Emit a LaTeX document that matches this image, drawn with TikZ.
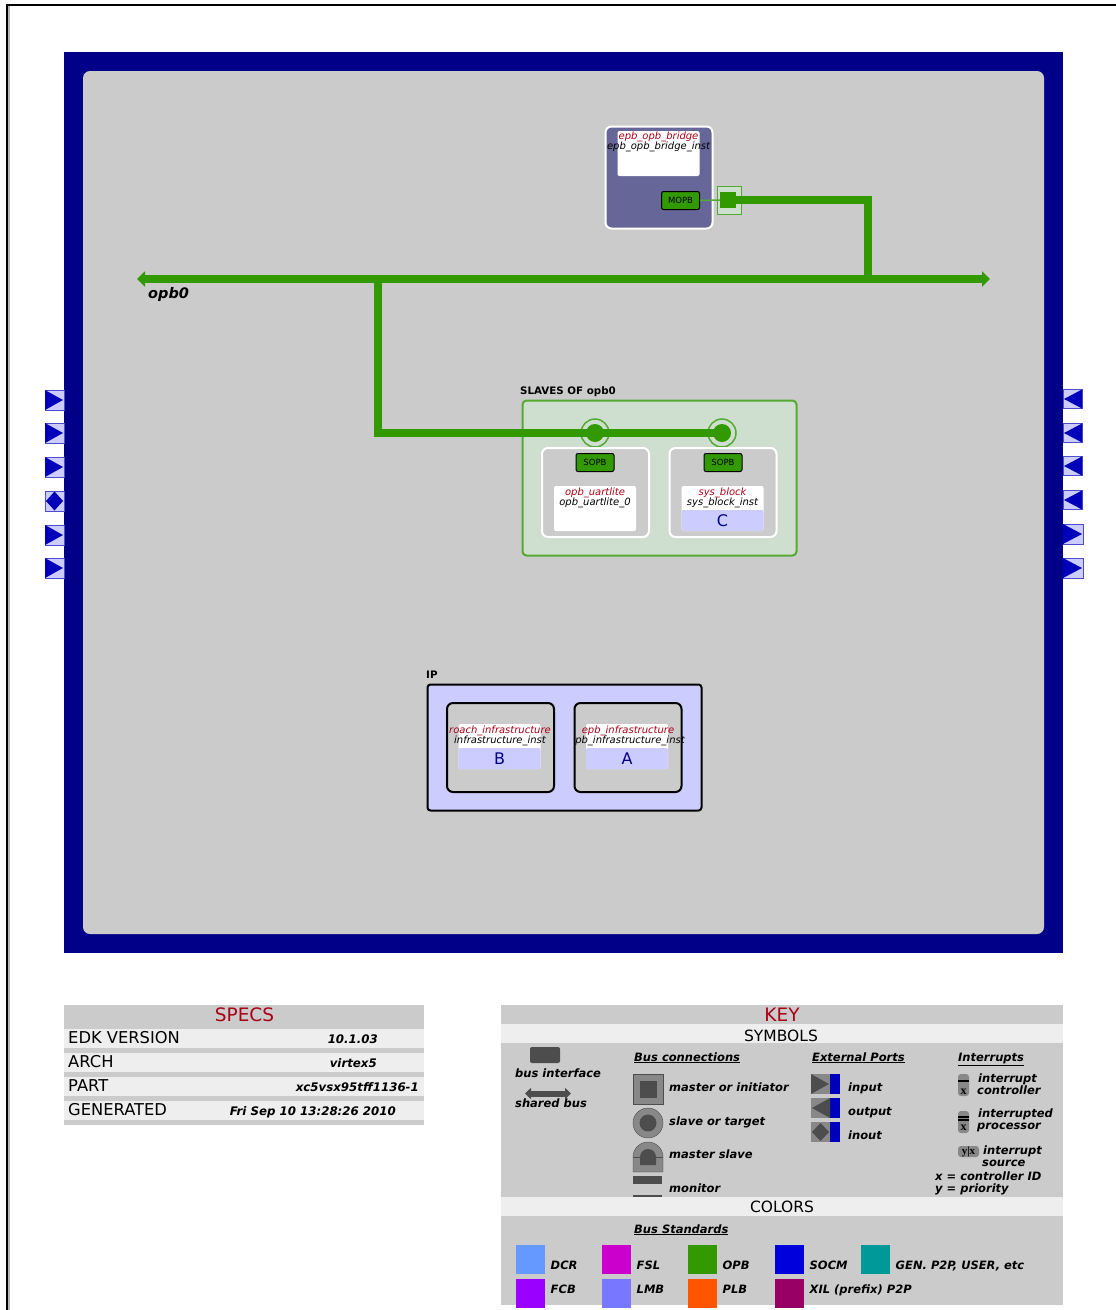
\documentclass[tikz,border=0pt]{standalone}
\usepackage{fontspec}
\usepackage{xcolor}
\setmainfont{DejaVu Sans}
\newfontfamily\iconfont{Liberation Serif}
\usetikzlibrary{arrows.meta, positioning, shapes.geometric, calc}
\definecolor{mnavy}{HTML}{000088}
\definecolor{mpanel}{HTML}{CBCBCB}
\definecolor{mstripe}{HTML}{EEEEEE}
\definecolor{mred}{HTML}{AA0017}
\definecolor{mbridge}{HTML}{666699}
\definecolor{mpale}{HTML}{CCCCFF}
\definecolor{mslave}{HTML}{CFDFCF}
\definecolor{mopb}{HTML}{339900}
\definecolor{mring}{HTML}{55AA33}
\definecolor{mdark}{HTML}{4D4D4D}
\definecolor{mmid}{HTML}{888888}
\definecolor{mport}{HTML}{0000BB}
\definecolor{mdcr}{HTML}{6699FF}
\definecolor{mfsl}{HTML}{CC00CC}
\definecolor{msocm}{HTML}{0000DD}
\definecolor{mgen}{HTML}{009999}
\definecolor{mfcb}{HTML}{9900FF}
\definecolor{mlmb}{HTML}{7777FF}
\definecolor{mplb}{HTML}{FF5500}
\definecolor{mxil}{HTML}{990066}
\tikzset{
  blockbox/.style={fill=mpanel, rounded corners=6pt, line width=2pt, minimum width=107pt, minimum height=89pt},
  labelbox/.style={fill=white, rounded corners=2pt, minimum width=82pt, minimum height=45pt},
  versionbox/.style={fill=mpale, rounded corners=2pt, minimum width=82pt, minimum height=21pt, text=mnavy, font=\fontsize{16}{17}\selectfont},
  ifbox/.style={draw=black, fill=mopb, rounded corners=2pt, line width=1pt, minimum width=38pt, minimum height=18pt, font=\fontsize{8.5}{9}\selectfont},
  coretxt/.style={font=\itshape\fontsize{10}{11}\selectfont, inner sep=0pt, anchor=base},
  bustxt/.style={font=\bfseries\fontsize{10.3}{11}\selectfont, inner sep=0pt, anchor=base west},
  busline/.style={draw=mopb, line width=8pt},
  stripe/.style={fill=mstripe, minimum height=19pt, inner sep=0pt},
  rowtxt/.style={font=\fontsize{16.3}{17}\selectfont, inner sep=0pt, anchor=base west},
  rowval/.style={font=\bfseries\itshape\fontsize{11.8}{13}\selectfont, inner sep=0pt, anchor=base east},
  titletxt/.style={text=mred, font=\fontsize{18.5}{20}\selectfont, inner sep=0pt, anchor=base},
  headtxt/.style={font=\fontsize{15.5}{17}\selectfont, inner sep=0pt, anchor=base},
  keytxt/.style={font=\bfseries\itshape\fontsize{11.5}{13}\selectfont, inner sep=0pt, anchor=base west},
  swatch/.style={minimum width=29pt, minimum height=29pt, inner sep=0pt, anchor=north west},
  portbox/.style={draw=mport!70, fill=mpale, line width=1pt},
  portfill/.style={fill=mport},
}
\begin{document}
\begin{tikzpicture}[x=1pt, y=-1pt]
  \useasboundingbox (0,0) rectangle (1116,1310);

  % page frame
  \draw[mmid!60, line width=2pt] (9,1310) -- (9,6);
  \draw[black, line width=2.5pt] (7,1310) -- (7,5) -- (1116,5);

  % system
  \node[fill=mnavy, minimum width=999pt, minimum height=901pt, inner sep=0pt] (system) at (563.5,502.5) {};
  \node[fill=mpanel, rounded corners=7pt, minimum width=961pt, minimum height=863pt, inner sep=0pt] (canvas) at (563.5,502.5) {};

  % external ports
  \foreach \py in {400,433,467,535,568} {
    \draw[portbox] (45,\py-10) rectangle (64,\py+10);
    \fill[portfill] (45,\py-10) -- (63,\py) -- (45,\py+10) -- cycle;
  }
  \draw[portbox] (45,491) rectangle (64,511);
  \fill[portfill] (46,501) -- (54.5,491.5) -- (63,501) -- (54.5,510.5) -- cycle;
  \foreach \py in {399,433,466,500} {
    \draw[portbox] (1063,\py-9.5) rectangle (1082,\py+9.5);
    \fill[portfill] (1082,\py-9.5) -- (1064,\py) -- (1082,\py+9.5) -- cycle;
  }
  \foreach \py in {534,568} {
    \draw[portbox] (1063,\py-10) rectangle (1083,\py+10);
    \fill[portfill] (1063,\py-10) -- (1082,\py) -- (1063,\py+10) -- cycle;
  }

  % bridge
  \node[blockbox, draw=white, fill=mbridge, minimum width=107pt, minimum height=102pt] (bridge) at (659,177.5) {};
  \node[labelbox, minimum width=82pt, minimum height=45pt] (bridgelabel) at (658.5,153.5) {};
  \node[coretxt, text=mred] (bridgetype) at (658.5,139.5) {epb\_opb\_bridge};
  \node[coretxt] (bridgeinst) at (658.5,149) {epb\_opb\_bridge\_inst};
  \node[ifbox] (mopb) at (680.5,200.5) {MOPB};
  \node[draw=mring, fill=mslave, line width=1.5pt, minimum width=24pt, minimum height=28pt, inner sep=0pt] (mconn) at (729.5,200.5) {};
  \node[fill=mopb, minimum size=16pt, inner sep=0pt] (msquare) at (728,200) {};
  \draw[mring, line width=1.5pt] (mopb.east) -- (msquare.west);

  % opb bus
  \coordinate (busleft) at (137,279);
  \coordinate (busright) at (990,279);
  \coordinate (tapleft) at (378,279);
  \coordinate (tapright) at (868,279);

  % slaves
  \node[draw=mring, fill=mslave, rounded corners=4pt, line width=2pt, minimum width=274pt, minimum height=155pt, inner sep=0pt] (slaves) at (659.5,478) {};
  \node[bustxt] (slavestxt) at (520,394) {SLAVES OF opb0};
  \node[circle, draw=mring, line width=1.5pt, minimum size=28pt, inner sep=0pt] (ringa) at (595,433) {};
  \node[circle, draw=mring, line width=1.5pt, minimum size=28pt, inner sep=0pt] (ringb) at (722,433) {};
  \node[circle, fill=mopb, minimum size=18pt, inner sep=0pt] (huba) at (595,433) {};
  \node[circle, fill=mopb, minimum size=18pt, inner sep=0pt] (hubb) at (722,433) {};

  \draw[busline] (msquare.east) -| (tapright);
  \draw[busline] (tapleft) |- (hubb.center);
  \draw[busline, {Triangle[width=15pt,length=8pt]}-{Triangle[width=15pt,length=8pt]}] (busleft) -- (busright);
  \node[font=\bfseries\itshape\fontsize{14.5}{16}\selectfont, inner sep=0pt, anchor=base west] (opblabel) at (148,298) {opb0};

  \node[blockbox, draw=white] (uart) at (595.5,492.5) {};
  \node[blockbox, draw=white] (sysblock) at (723,492.5) {};
  \node[ifbox] (sopba) at (595,462.5) {SOPB};
  \node[ifbox] (sopbb) at (723,462.5) {SOPB};
  \node[labelbox] (uartlabel) at (595,508.5) {};
  \node[labelbox] (syslabel) at (722.5,508.5) {};
  \node[versionbox] (sysver) at (722.5,520.5) {C};
  \node[coretxt, text=mred] (uarttype) at (595,495.5) {opb\_uartlite};
  \node[coretxt] (uartinst) at (595,505) {opb\_uartlite\_0};
  \node[coretxt, text=mred] (systype) at (722.5,495.5) {sys\_block};
  \node[coretxt] (sysinst) at (722.5,505) {sys\_block\_inst};

  % ip
  \node[draw=black, fill=mpale, rounded corners=3pt, line width=2pt, minimum width=274pt, minimum height=126pt, inner sep=0pt] (ipbox) at (564.5,747.5) {};
  \node[bustxt] (iptxt) at (426,678) {IP};
  \node[blockbox, draw=black] (roach) at (500.5,747.5) {};
  \node[blockbox, draw=black] (epb) at (628,747.5) {};
  \node[labelbox] (roachlabel) at (499.5,746.5) {};
  \node[labelbox] (epblabel) at (627,746.5) {};
  \node[versionbox] (roachver) at (499.5,758.5) {B};
  \node[versionbox] (epbver) at (627,758.5) {A};
  \node[coretxt, text=mred] (roachtype) at (500,733.5) {roach\_infrastructure};
  \node[coretxt] (roachinst) at (500,743) {infrastructure\_inst};
  \node[coretxt, text=mred] (epbtype) at (628,733.5) {epb\_infrastructure};
  \node[coretxt] (epbinst) at (630,743) {pb\_infrastructure\_inst};

  % specs
  \node[fill=mpanel, minimum width=360pt, minimum height=120pt, inner sep=0pt] (specs) at (244,1065) {};
  \node[titletxt] (specstitle) at (244.5,1021.5) {SPECS};
  \node[stripe, minimum width=360pt] (rowa) at (244,1038.5) {};
  \node[stripe, minimum width=360pt] (rowb) at (244,1062.5) {};
  \node[stripe, minimum width=360pt] (rowc) at (244,1086.5) {};
  \node[stripe, minimum width=360pt] (rowd) at (244,1110.5) {};
  \node[rowtxt] (edk) at (68,1043.5) {EDK VERSION};
  \node[rowtxt] (arch) at (68,1067.5) {ARCH};
  \node[rowtxt] (part) at (68,1091.5) {PART};
  \node[rowtxt] (gen) at (68,1115.5) {GENERATED};
  \node[rowval] (edkval) at (378,1043) {10.1.03};
  \node[rowval] (archval) at (377,1067) {virtex5};
  \node[rowval] (partval) at (419,1091) {xc5vsx95tff1136-1};
  \node[rowval] (genval) at (396,1115) {Fri Sep 10 13:28:26 2010};

  % key
  \node[fill=mpanel, minimum width=562pt, minimum height=300pt, inner sep=0pt] (key) at (782,1155) {};
  \node[titletxt] (keytitle) at (782,1021.5) {KEY};
  \node[stripe, minimum width=562pt] (symbols) at (782,1033.5) {};
  \node[stripe, minimum width=562pt] (colors) at (782,1206.5) {};
  \node[headtxt] (symbolstxt) at (781,1041) {SYMBOLS};
  \node[headtxt] (colorstxt) at (782,1212) {COLORS};

  \node[fill=mdark, rounded corners=2pt, minimum width=30pt, minimum height=16pt, inner sep=0pt] (ifsym) at (545,1055) {};
  \node[keytxt] (iftxt) at (515,1077) {bus interface};
  \coordinate (sharedl) at (525,1093.5);
  \coordinate (sharedr) at (571,1093.5);
  \draw[mdark, line width=6pt, {Triangle[width=11pt,length=6pt]}-{Triangle[width=11pt,length=6pt]}] (sharedl) -- (sharedr);
  \node[keytxt] (sharedtxt) at (515,1107) {shared bus};

  \node[keytxt] (conhead) at (634,1061) {\underline{Bus connections}};
  \node[draw=mdark, fill=mmid, minimum size=30pt, inner sep=0pt] (msym) at (648,1089) {};
  \node[fill=mdark, minimum size=17pt, inner sep=0pt] (msyma) at (648,1089) {};
  \node[keytxt] (mtxt) at (669,1091) {master or initiator};
  \node[circle, draw=mdark, fill=mmid, minimum size=30pt, inner sep=0pt] (ssym) at (648,1123) {};
  \node[circle, fill=mdark, minimum size=17pt, inner sep=0pt] (ssyma) at (648,1123) {};
  \node[keytxt] (stxt) at (669,1125) {slave or target};
  \draw[mdark, fill=mmid] (633,1172) -- (633,1157) arc[start angle=180, end angle=0, radius=15pt] -- (663,1172) -- cycle;
  \draw[mdark] (633,1157) -- (663,1157);
  \fill[mdark] (640,1165) -- (640,1157) arc[start angle=180, end angle=0, radius=8pt] -- (656,1165) -- cycle;
  \node[keytxt] (mstxt) at (669,1158) {master slave};
  \node[fill=mdark, minimum width=29pt, minimum height=8pt, inner sep=0pt] (monsym) at (647.5,1180) {};
  \node[fill=mdark, minimum width=29pt, minimum height=2.5pt, inner sep=0pt] (monsymb) at (647.5,1196) {};
  \node[keytxt] (montxt) at (669,1192) {monitor};

  \node[keytxt] (porthead) at (812,1061) {\underline{External Ports}};
  \foreach \py/\ptxt in {1084/input, 1108/output, 1132/inout} {
    \fill[mmid] (811,\py-10) rectangle (830,\py+10);
    \fill[mport] (830,\py-10) rectangle (840,\py+10);
    \node[keytxt] at (848,\py+7) {\ptxt};
  }
  \fill[mdark] (811,1074) -- (829,1084) -- (811,1094) -- cycle;
  \fill[mdark] (830,1098) -- (812,1108) -- (830,1118) -- cycle;
  \fill[mdark] (812,1132) -- (820.5,1123) -- (829,1132) -- (820.5,1141) -- cycle;

  \node[keytxt] (inthead) at (958,1061) {\underline{Interrupts}};
  \node[fill=mmid, rounded corners=3pt, minimum width=11pt, minimum height=22pt, inner sep=0pt] (ctrlsym) at (963.5,1085) {};
  \node[fill=black, minimum width=11pt, minimum height=1.5pt, inner sep=0pt] (ctrlbar) at (963.5,1081) {};
  \node[font=\iconfont\bfseries\fontsize{12}{12}\selectfont, inner sep=0pt, anchor=base] (ctrlx) at (963.5,1094) {x};
  \node[keytxt] (ctrltxta) at (978,1082) {interrupt};
  \node[keytxt] (ctrltxtb) at (977,1094) {controller};
  \node[fill=mmid, rounded corners=3pt, minimum width=11pt, minimum height=22pt, inner sep=0pt] (procsym) at (963.5,1122) {};
  \node[fill=black, minimum width=11pt, minimum height=1.2pt, inner sep=0pt] (procbara) at (963.5,1117) {};
  \node[fill=black, minimum width=11pt, minimum height=1.2pt, inner sep=0pt] (procbarb) at (963.5,1120) {};
  \node[font=\iconfont\bfseries\fontsize{12}{12}\selectfont, inner sep=0pt, anchor=base] (procx) at (963.5,1130.5) {x};
  \node[keytxt] (proctxta) at (978,1117) {interrupted};
  \node[keytxt] (proctxtb) at (977,1129) {processor};
  \node[fill=mmid, rounded corners=3pt, minimum width=21pt, minimum height=11pt, inner sep=0pt] (srcsym) at (968.5,1151.5) {};
  \node[font=\iconfont\bfseries\fontsize{11}{11}\selectfont, inner sep=0pt] (srcx) at (968.5,1151.5) {y|x};
  \node[keytxt] (srctxta) at (983,1154) {interrupt};
  \node[keytxt] (srctxtb) at (982,1166) {source};
  \node[keytxt] (xnote) at (935,1180) {x = controller ID};
  \node[keytxt] (ynote) at (935,1192) {y = priority};

  \node[keytxt] (stdhead) at (634,1233) {\underline{Bus Standards}};
  \foreach \sx/\sy/\ty/\scol/\stxt in {516/1245/1269/mdcr/DCR, 602/1245/1269/mfsl/FSL, 688/1245/1269/mopb/OPB, 775/1245/1269/msocm/SOCM, 861/1245/1269/mgen/{GEN. P2P, USER, etc}, 516/1279/1293/mfcb/FCB, 602/1279/1293/mlmb/LMB, 688/1279/1293/mplb/PLB, 775/1279/1293/mxil/{XIL (prefix) P2P}} {
    \node[swatch, fill=\scol] at (\sx,\sy) {};
    \node[keytxt] at (\sx+34.5,\ty) {\stxt};
  }
\end{tikzpicture}
\end{document}
